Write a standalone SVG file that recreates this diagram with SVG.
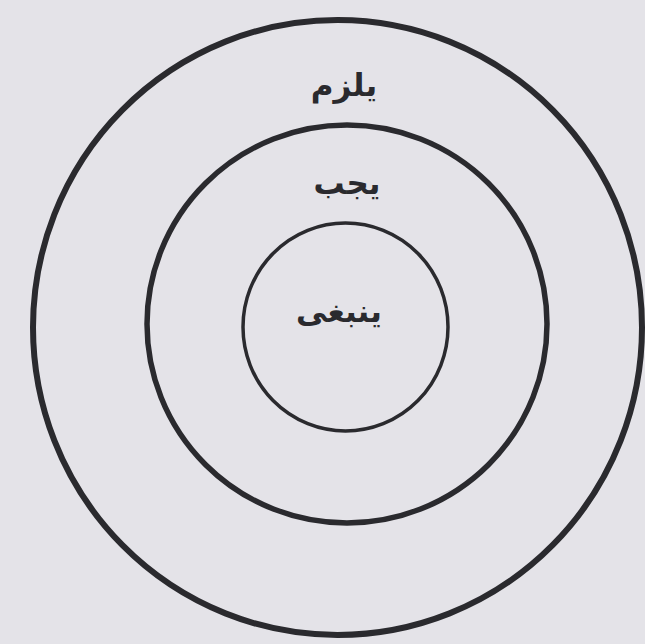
<svg xmlns="http://www.w3.org/2000/svg" width="645" height="644" viewBox="0 0 645 644">
<style>
.ring{fill:none;stroke:#2a2a2e}
.lbl{font-family:"DejaVu Sans","Noto Sans",sans-serif;font-size:31px;font-weight:bold;fill:#2a2a2e;text-anchor:middle;direction:rtl}
</style>
<rect x="0" y="0" width="645" height="644" fill="#e4e3e8"/>
<g id="outer">
<ellipse class="ring" cx="337.5" cy="327.5" rx="304.5" ry="307.5" stroke-width="6"/>
<text class="lbl" x="344" y="96">يلزم</text>
</g>
<g id="middle">
<ellipse class="ring" cx="347" cy="324" rx="200" ry="199" stroke-width="5.5"/>
<text class="lbl" x="347" y="194">يجب</text>
</g>
<g id="inner">
<ellipse class="ring" cx="345.5" cy="327" rx="102.5" ry="104" stroke-width="3.5"/>
<text class="lbl" x="339" y="322">ينبغى</text>
</g>
<g id="connectors"/>
</svg>
